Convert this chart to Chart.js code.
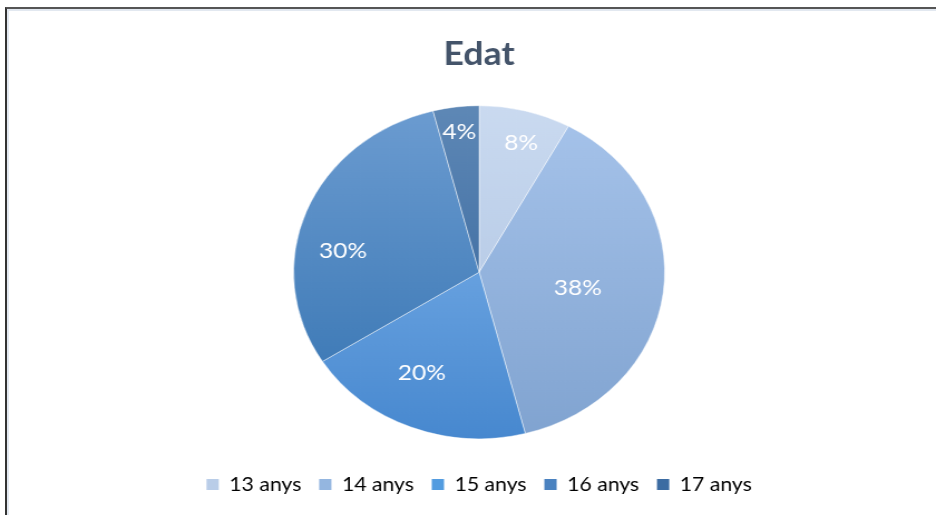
<!DOCTYPE html>
<html>
<head>
<meta charset="utf-8">
<script src="https://cdn.jsdelivr.net/npm/chart.js@4"></script>
<style>
  html, body { margin: 0; padding: 0; background: #fff; }
  #wrap { position: relative; width: 936px; height: 515px; overflow: hidden; }
  #edatChart { position: absolute; left: 0; top: 0; }
  #frame {
    position: absolute; left: 5px; top: 7px; right: -5px; bottom: -5px;
    border-left: 2px solid #333; border-top: 2px solid #555;
    box-shadow: inset 2px 2px 0 #e2e8f0; pointer-events: none;
  }
</style>
</head>
<body>
<div id="wrap">
  <!-- drawn 840 wide, stretched to the full 936 -->
  <canvas id="edatChart" width="840" height="515" style="width:936px;height:515px"></canvas>
  <div id="frame"></div>
</div>
<script>
const categories = ['13 anys', '14 anys', '15 anys', '16 anys', '17 anys'];
const percentages = [8, 38, 20, 30, 4];

// top / bottom colour of each slice's vertical gradient
const shades = [
    ['#cadaf0', '#a9c0e0'],
    ['#a7c4eb', '#80a3d0'],
    ['#86b9ef', '#4788cf'],
    ['#6c9cd1', '#3372b0'],
    ['#5e88b6', '#2e5e96']
];
const swatches = ['#b9cde8', '#94b6e0', '#539ce0', '#4a82c0', '#3c6ca2'];

function sliceFill(context) {
    const chart = context.chart;
    const meta = chart.getDatasetMeta(0);
    const arc = meta.data[context.dataIndex];
    const pair = shades[context.dataIndex];
    if (!arc || !arc.outerRadius) return pair[1];
    const g = chart.ctx.createLinearGradient(0, arc.y - arc.outerRadius, 0, arc.y + arc.outerRadius);
    g.addColorStop(0, pair[0]);
    g.addColorStop(1, pair[1]);
    return g;
}

// percentage text inside each slice
const sliceLabels = {
    id: 'sliceLabels',
    afterDatasetsDraw(chart, args, opts) {
        const ctx = chart.ctx;
        const meta = chart.getDatasetMeta(0);
        ctx.save();
        ctx.font = opts.font;
        ctx.fillStyle = opts.color;
        ctx.textAlign = 'center';
        ctx.textBaseline = 'middle';
        meta.data.forEach((arc, i) => {
            const p = opts.placement[i];
            const a = (arc.startAngle + arc.endAngle) / 2 + p.shift * Math.PI / 180;
            const r = arc.outerRadius * p.dist;
            ctx.fillText(percentages[i] + '%', arc.x + Math.cos(a) * r, arc.y + Math.sin(a) * r);
        });
        ctx.restore();
    }
};

const ctx = document.getElementById('edatChart').getContext('2d');

const chart = new Chart(ctx, {
    type: 'pie',
    data: {
        labels: categories,
        datasets: [{
            data: percentages,
            backgroundColor: sliceFill,
            borderColor: 'rgba(255, 255, 255, 0.45)',
            borderWidth: 1,
            radius: 166.5
        }]
    },
    plugins: [sliceLabels],
    options: {
        responsive: false,
        animation: false,
        devicePixelRatio: 1,
        layout: {
            padding: { left: 20, bottom: 11 }
        },
        plugins: {
            title: {
                display: true,
                text: 'Edat',
                color: '#44546a',
                font: { family: 'Lato', size: 32, weight: 'bold' },
                padding: { top: 35, bottom: 12 }
            },
            legend: {
                position: 'bottom',
                labels: {
                    color: '#595959',
                    font: { family: 'Lato', size: 19 },
                    boxWidth: 11,
                    boxHeight: 11,
                    padding: 16,
                    generateLabels: (chart) => chart.data.labels.map((text, i) => ({
                        text: text,
                        fillStyle: swatches[i],
                        strokeStyle: swatches[i],
                        lineWidth: 0,
                        hidden: false,
                        index: i
                    }))
                }
            },
            tooltip: { enabled: false },
            sliceLabels: {
                font: '22px Lato',
                color: '#ffffff',
                placement: [
                    { dist: 0.81, shift: 1.8 },
                    { dist: 0.54, shift: 2.7 },
                    { dist: 0.68, shift: 5.4 },
                    { dist: 0.745, shift: -11.6 },
                    { dist: 0.85, shift: 0 }
                ]
            }
        }
    }
});
// gradients need the arc geometry from the first layout pass
chart.update();
</script>
</body>
</html>
